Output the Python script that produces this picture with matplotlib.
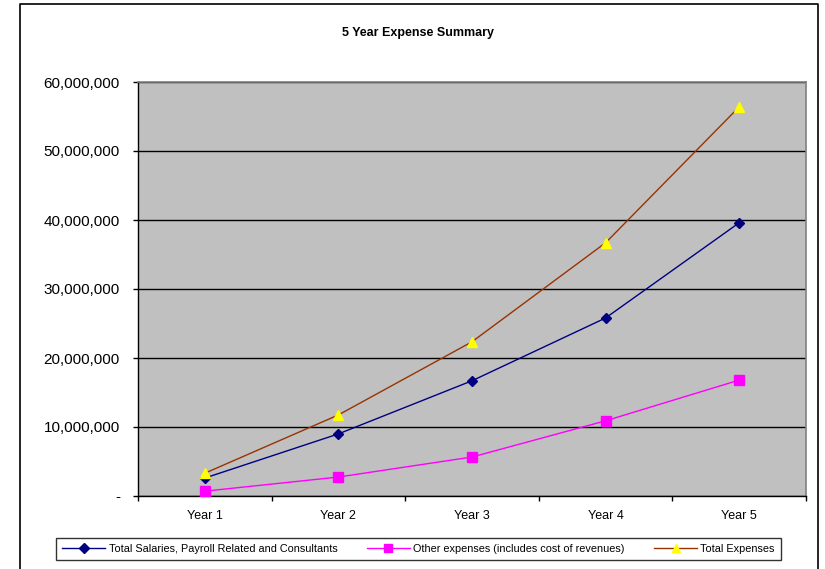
import matplotlib
matplotlib.use("Agg")
import matplotlib.pyplot as plt
from matplotlib.lines import Line2D
from matplotlib.ticker import FuncFormatter, FixedLocator, NullFormatter

plt.rcParams['font.family'] = ['Liberation Sans', 'DejaVu Sans']

years = ["Year 1", "Year 2", "Year 3", "Year 4", "Year 5"]
salaries = [2_600_000, 9_000_000, 16_700_000, 25_800_000, 39_600_000]
other = [700_000, 2_750_000, 5_650_000, 10_900_000, 16_800_000]
total = [3_300_000, 11_750_000, 22_350_000, 36_700_000, 56_400_000]

W, H = 825, 569
fig = plt.figure(figsize=(W / 100, H / 100), dpi=100)
fig.patch.set_facecolor("white")

# chart border (left, top, right edges)
x0, x1, y0 = 20 / W, 818 / W, 1 - 4 / H
fig.add_artist(Line2D([x0, x0, x1, x1], [-0.05, y0, y0, -0.05],
                      transform=fig.transFigure, color="black", lw=1.2))

ax = fig.add_axes([138 / W, 1 - 496 / H, (806 - 138) / W, (496 - 82) / H])
ax.set_facecolor("#C0C0C0")

xs = list(range(len(years)))
ax.plot(xs, salaries, color="#000080", lw=1.0, marker="D", ms=5.5,
        mfc="#000080", mec="#000080",
        label="Total Salaries, Payroll Related and Consultants", zorder=3)
ax.plot(xs, other, color="#FF00FF", lw=1.0, marker="s", ms=6.5,
        mfc="#FF00FF", mec="#FF00FF",
        label="Other expenses (includes cost of revenues)", zorder=3)
ax.plot(xs, total, color="#993300", lw=1.0, marker="^", ms=7.5,
        mfc="#FFFF00", mec="#FFFF00",
        label="Total Expenses", zorder=3)

ax.set_xlim(-0.5, len(years) - 0.5)
ax.set_ylim(0, 60_000_000)
ax.set_yticks(range(0, 60_000_001, 10_000_000))
ax.yaxis.set_major_formatter(FuncFormatter(
    lambda v, p: "-" if v == 0 else f"{int(v):,}"))
ax.grid(axis="y", color="black", lw=1.0)
ax.set_axisbelow(True)

ax.xaxis.set_major_locator(FixedLocator([i - 0.5 for i in range(len(years) + 1)]))
ax.xaxis.set_major_formatter(NullFormatter())
ax.xaxis.set_minor_locator(FixedLocator(xs))
ax.set_xticklabels(years, minor=True)
ax.tick_params(axis="x", which="minor", length=0, pad=10, labelsize=9)
ax.tick_params(axis="x", which="major", length=3.6, width=1, direction="out")
ax.tick_params(axis="y", length=3.6, width=1, direction="out", pad=9.4, labelsize=11)

for s in ("left", "bottom"):
    ax.spines[s].set_color("black")
    ax.spines[s].set_linewidth(1.0)
for s in ("top", "right"):
    ax.spines[s].set_color("#808080")
    ax.spines[s].set_linewidth(1.2)

fig.text((342 + 493) / 2 / W, 1 - 33 / H, "5 Year Expense Summary",
         ha="center", va="center", fontsize=9, fontweight="bold")

leg = fig.legend(loc="center", bbox_to_anchor=((57 + 780) / 2 / W, 1 - 549 / H),
                 ncol=3, fontsize=7.8, frameon=True, fancybox=False,
                 edgecolor="black", handlelength=4.0, columnspacing=2.7,
                 handletextpad=0.3, borderpad=0.55, markerscale=0.85)
leg.get_frame().set_linewidth(1.0)

fig.savefig("out.png", dpi=100)
